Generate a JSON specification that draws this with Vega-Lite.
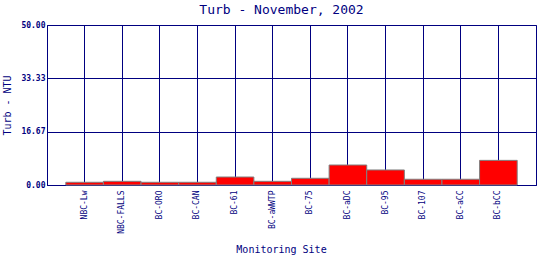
{
  "$schema": "https://vega.github.io/schema/vega-lite/v6.json",
  "width": 489,
  "height": 160,
  "autosize": "none",
  "padding": {"left": 47, "top": 25, "right": 4, "bottom": 75},
  "background": "white",
  "title": {
    "text": "Turb - November, 2002",
    "font": "DejaVu Sans Mono",
    "fontSize": 13,
    "fontWeight": "normal",
    "color": "#000080",
    "dx": -10,
    "dy": 13,
    "baseline": "bottom",
    "offset": 4
  },
  "config": {
    "view": {"stroke": "#000080", "strokeWidth": 1},
    "axis": {
      "domainColor": "#000080",
      "gridColor": "#000080",
      "gridOpacity": 1,
      "labelColor": "#000080",
      "titleColor": "#000080",
      "labelFont": "DejaVu Sans Mono",
      "titleFont": "DejaVu Sans Mono",
      "titleFontWeight": "normal",
      "titleFontSize": 10,
      "labelFontSize": 8,
      "ticks": false
    }
  },
  "data": {
    "values": [
      {"site": "NBC-Lw", "turb": 0.85},
      {"site": "NBC-FALLS", "turb": 1.15},
      {"site": "BC-ORO", "turb": 0.85},
      {"site": "BC-CAN", "turb": 0.85},
      {"site": "BC-61", "turb": 2.5},
      {"site": "BC-aWWTP", "turb": 1.15},
      {"site": "BC-75", "turb": 2.1},
      {"site": "BC-aDC", "turb": 6.25},
      {"site": "BC-95", "turb": 4.7},
      {"site": "BC-107", "turb": 1.8},
      {"site": "BC-aCC", "turb": 1.8},
      {"site": "BC-bCC", "turb": 7.7}
    ]
  },
  "mark": {"type": "bar", "color": "#FF0000", "stroke": "#808080", "strokeWidth": 1},
  "encoding": {
    "x": {
      "field": "site",
      "type": "nominal",
      "sort": null,
      "scale": {"paddingInner": 0, "paddingOuter": 0.5},
      "axis": {
        "title": "Monitoring Site",
        "labelAngle": -90,
        "labelPadding": 5,
        "grid": true,
        "titleX": 234,
        "titleY": 64,
        "titleBaseline": "middle"
      }
    },
    "y": {
      "field": "turb",
      "type": "quantitative",
      "scale": {"domain": [0, 50], "nice": false},
      "axis": {
        "title": "Turb - NTU",
        "values": [0, 16.6667, 33.3333, 50],
        "format": ".2f",
        "labelFontWeight": "bold",
        "labelPadding": 2,
        "grid": true,
        "titleX": -40,
        "titleBaseline": "middle"
      }
    }
  }
}
